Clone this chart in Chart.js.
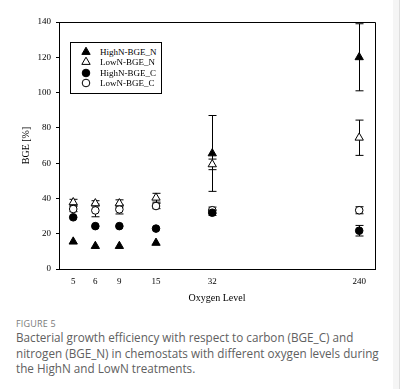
<!DOCTYPE html>
<html>
<head>
<meta charset="utf-8">
<script src="https://cdn.jsdelivr.net/npm/chart.js@4"></script>
<style>
  body { margin: 0; background: #fff; }
  #wrap { position: relative; width: 402px; height: 389px; overflow: hidden; }
  #box { position: absolute; left: 0; top: 0; width: 402px; height: 310px; }
  #edge { position: absolute; left: 393px; top: 0; width: 6px; height: 389px; background: #f5f5f5; border-right: 1px solid #dedede; }
  #legend { position: absolute; left: 70px; top: 42px; width: 90px; height: 50px; border: 1px solid #000; background: #fff;
            font-family: "Liberation Serif", serif; font-size: 9px; color: #000; }
  .row { position: absolute; left: 0; height: 10px; line-height: 10px; }
  .row span.t { position: absolute; left: 29px; white-space: nowrap; }
  .row canvas { position: absolute; left: 9px; top: -1px; }
  #fig { position: absolute; left: 16px; top: 318px; font-family: "Open Sans", sans-serif; font-size: 9px; line-height: 12px; color: #7a7a7a; letter-spacing: 0.2px; }
  #cap { position: absolute; left: 16px; top: 330px; width: 372px; font-family: "Open Sans", sans-serif; font-size: 11.7px; line-height: 15.5px; color: #606060; }
</style>
</head>
<body>
<div id="wrap">
  <div id="box"><canvas id="bgeChart"></canvas></div>
  <div id="legend"></div>
  <div id="edge"></div>
  <div id="fig">FIGURE 5</div>
  <div id="cap">Bacterial growth efficiency with respect to carbon (BGE_C) and nitrogen (BGE_N) in chemostats with different oxygen levels during the HighN and LowN treatments.</div>
</div>
<script>
// oxygen levels and where each one sits along the (unevenly spaced) x axis
const oxygenLevels = ['5', '6', '9', '15', '32', '240'];
const levelAxisPos = [0.45, 1.15, 1.91, 3.07, 4.85, 9.5];

const seriesNames = ['HighN-BGE_N', 'LowN-BGE_N', 'HighN-BGE_C', 'LowN-BGE_C'];

const highN_N = [15.5, 13, 13, 14.8, 65.5, 120];
const lowN_N = [37.8, 37.2, 37.2, 40.4, 59.3, 74.4];
const highN_C = [29.3, 24.3, 24.3, 22.9, 31.9, 21.7];
const lowN_C = [34, 33.2, 33.8, 35.7, 33.3, 33.3];

const highN_N_err = [0, 0, 0, 0, 21.5, 19];
const lowN_N_err = [1.7, 1.5, 2, 2.5, 3, 10];
const highN_C_err = [0, 0, 0, 0, 1.5, 3];
const lowN_C_err = [1.5, 3.6, 2.6, 1.5, 1.8, 2];

const yTicks = [0, 20, 40, 60, 80, 100, 120, 140];

const styles = [
  { pointStyle: 'triangle', fill: '#000', radius: 4.8 },
  { pointStyle: 'triangle', fill: '#fff', radius: 4.8 },
  { pointStyle: 'circle', fill: '#000', radius: 3.8 },
  { pointStyle: 'circle', fill: '#fff', radius: 3.8 }
];
const allValues = [highN_N, lowN_N, highN_C, lowN_C];
const allErrors = [highN_N_err, lowN_N_err, highN_C_err, lowN_C_err];

const datasets = seriesNames.map((name, i) => ({
  label: name,
  data: allValues[i].map((v, j) => ({ x: levelAxisPos[j], y: v })),
  errors: allErrors[i],
  showLine: false,
  pointStyle: styles[i].pointStyle,
  pointRadius: styles[i].radius,
  pointBackgroundColor: styles[i].fill,
  pointBorderColor: '#000',
  pointBorderWidth: 1
}));

// error bars, drawn through the chart scales
const errorBars = {
  id: 'errorBars',
  beforeDatasetsDraw(chart) {
    const ctx = chart.ctx;
    const xs = chart.scales.x, ys = chart.scales.y;
    ctx.save();
    ctx.strokeStyle = '#000';
    ctx.lineWidth = 1;
    chart.data.datasets.forEach(ds => {
      ds.data.forEach((p, j) => {
        const e = ds.errors[j];
        if (!e) return;
        const px = Math.round(xs.getPixelForValue(p.x)) + 0.5;
        const top = ys.getPixelForValue(p.y + e);
        const bot = ys.getPixelForValue(p.y - e);
        ctx.beginPath();
        ctx.moveTo(px, top); ctx.lineTo(px, bot);
        ctx.moveTo(px - 4, top); ctx.lineTo(px + 4, top);
        ctx.moveTo(px - 4, bot); ctx.lineTo(px + 4, bot);
        ctx.stroke();
      });
    });
    ctx.restore();
  }
};

// top and right edges of the frame
const frame = {
  id: 'frame',
  afterDraw(chart) {
    const a = chart.chartArea, ctx = chart.ctx;
    ctx.save();
    ctx.strokeStyle = '#000';
    ctx.lineWidth = 1;
    ctx.beginPath();
    ctx.moveTo(a.left, a.top + 0.5); ctx.lineTo(a.right + 0.5, a.top + 0.5); ctx.lineTo(a.right + 0.5, a.bottom);
    ctx.stroke();
    ctx.restore();
  }
};

const serif = { family: '"Liberation Serif", "Times New Roman", serif', size: 9 };

new Chart(document.getElementById('bgeChart'), {
  type: 'scatter',
  data: { datasets: datasets },
  options: {
    responsive: true,
    maintainAspectRatio: false,
    animation: false,
    layout: { padding: { left: 0, top: 22, right: 27, bottom: 0 } },
    plugins: { legend: { display: false }, tooltip: { enabled: false } },
    scales: {
      x: {
        type: 'linear',
        min: 0,
        max: 10,
        afterFit: s => { s.height = 41; },
        afterBuildTicks: s => { s.ticks = levelAxisPos.map(v => ({ value: v })); },
        ticks: {
          autoSkip: false,
          maxRotation: 0,
          padding: 7,
          color: '#000',
          font: serif,
          callback: (v) => oxygenLevels[levelAxisPos.indexOf(v)]
        },
        grid: { display: false, drawTicks: false },
        border: { display: true, color: '#000', width: 1 },
        title: { display: true, text: 'Oxygen Level', color: '#000', font: { family: serif.family, size: 10 }, padding: { top: 0, bottom: 6 } }
      },
      y: {
        min: 0,
        max: 140,
        afterFit: s => { s.width = 59; },
        afterBuildTicks: s => { s.ticks = yTicks.map(v => ({ value: v })); },
        ticks: { padding: 5, color: '#000', font: serif },
        grid: { drawOnChartArea: false, drawTicks: true, tickLength: 3, color: '#000' },
        border: { display: true, color: '#000', width: 1 },
        title: { display: true, text: 'BGE [%]', color: '#000', font: { family: serif.family, size: 10 }, padding: { top: 20, bottom: 0 } }
      }
    }
  },
  plugins: [errorBars, frame]
});

// legend inside the plot, built from the same series
const legend = document.getElementById('legend');
seriesNames.forEach((name, i) => {
  const row = document.createElement('div');
  row.className = 'row';
  row.style.top = (4 + i * 10.3) + 'px';
  const c = document.createElement('canvas');
  c.width = 12; c.height = 12;
  const g = c.getContext('2d');
  g.fillStyle = styles[i].fill; g.strokeStyle = '#000'; g.lineWidth = 1;
  Chart.helpers.drawPoint(g, { pointStyle: styles[i].pointStyle, radius: styles[i].radius, rotation: 0, borderWidth: 1 }, 6, 6);
  row.appendChild(c);
  const t = document.createElement('span');
  t.className = 't';
  t.textContent = name;
  row.appendChild(t);
  legend.appendChild(row);
});
</script>
</body>
</html>
